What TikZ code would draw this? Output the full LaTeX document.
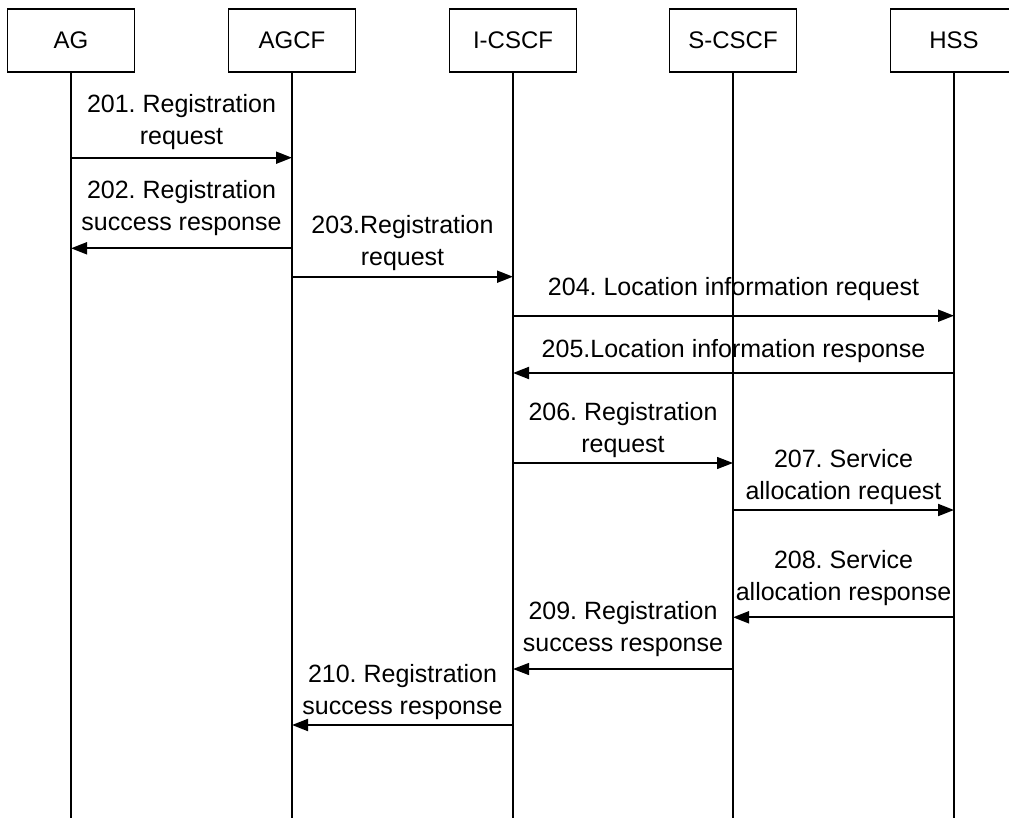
\documentclass[tikz,border=0pt]{standalone}
\usepackage{fontspec}
\setmainfont{Liberation Sans}
\usetikzlibrary{arrows.meta}
\frenchspacing
\begin{document}
\begin{tikzpicture}[x=1pt,y=-1pt,
  ent/.style={draw,line width=1.4pt,minimum width=127pt,minimum height=63pt,inner sep=0pt,font=\fontsize{24}{29}\selectfont},
  life/.style={line width=1.4pt},
  msg/.style={line width=1.9pt,-{Triangle[length=16pt,width=12pt]}},
  thinmsg/.style={line width=1.3pt,-{Triangle[length=16pt,width=12pt]}},
  lbl/.style={anchor=south,align=center,inner sep=0pt,font=\fontsize{25}{32}\selectfont}]
\useasboundingbox (0,0) rectangle (1009,818);
% entities
\node[ent] (ag)    at (71,40.5)  {AG};
\node[ent] (agcf)  at (292,40.5) {AGCF};
\node[ent] (icscf) at (513,40.5) {I-CSCF};
\node[ent] (scscf) at (733,40.5) {S-CSCF};
\node[ent] (hss)   at (954,40.5) {HSS};
% lifeline ends
\coordinate (agE)    at (71,818);
\coordinate (agcfE)  at (292,818);
\coordinate (icscfE) at (513,818);
\coordinate (scscfE) at (733,818);
\coordinate (hssE)   at (954,818);
\draw[life] (ag.south) -- (agE);
\draw[life] (agcf.south) -- (agcfE);
\draw[life] (icscf.south) -- (icscfE);
\draw[life] (scscf.south) -- (scscfE);
\draw[life] (hss.south) -- (hssE);
% messages
\draw[msg] (ag.south |- 0,157.7) -- (agcf.south |- 0,157.7)
  node[lbl,midway,yshift=7.5pt] {201. Registration\\request};
\draw[msg] (agcf.south |- 0,248.3) -- (ag.south |- 0,248.3)
  node[lbl,midway,yshift=11.4pt] {202. Registration\\success response};
\draw[msg] (agcf.south |- 0,276.7) -- (icscf.south |- 0,276.7)
  node[lbl,midway,yshift=4.8pt] {203.Registration\\request};
\draw[msg] (icscf.south |- 0,315.7) -- (hss.south |- 0,315.7)
  node[lbl,midway,yshift=13.8pt] {204. Location information request};
\draw[msg] (hss.south |- 0,373) -- (icscf.south |- 0,373)
  node[lbl,midway,yshift=9.8pt] {205.Location information response};
\draw[thinmsg] (icscf.south |- 0,463) -- (scscf.south |- 0,463)
  node[lbl,midway,yshift=4.8pt] {206. Registration\\request};
\draw[msg] (scscf.south |- 0,510) -- (hss.south |- 0,510)
  node[lbl,midway,yshift=4.8pt] {207. Service\\allocation request};
\draw[msg] (hss.south |- 0,617.3) -- (scscf.south |- 0,617.3)
  node[lbl,midway,yshift=10.4pt] {208. Service\\allocation response};
\draw[thinmsg] (scscf.south |- 0,669) -- (icscf.south |- 0,669)
  node[lbl,midway,yshift=12pt] {209. Registration\\success response};
\draw[msg] (icscf.south |- 0,725) -- (agcf.south |- 0,725)
  node[lbl,midway,yshift=4.8pt] {210. Registration\\success response};
\end{tikzpicture}
\end{document}
